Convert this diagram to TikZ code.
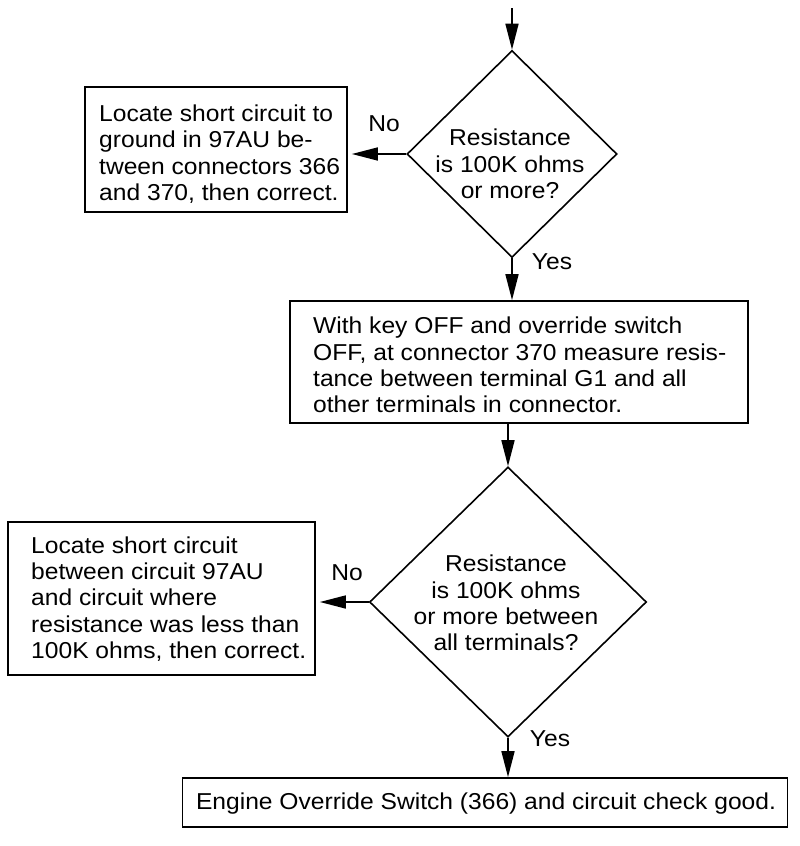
\documentclass[tikz,border=0pt]{standalone}
\usepackage{fontspec}
\setmainfont[FakeStretch=1.07]{Liberation Sans}
\usetikzlibrary{shapes.geometric,arrows.meta}
\begin{document}
\begin{tikzpicture}[x=1pt,y=-1pt,
  txt/.style={font=\fontsize{23}{26.3}\selectfont, inner sep=0pt},
  boxframe/.style={draw, line width=1.7pt, inner sep=0pt},
  dia/.style={draw, diamond, line width=1.6pt, inner sep=0pt, aspect=1},
  arr/.style={line width=1.6pt, -{Triangle[length=26pt,width=13pt]}}]
\useasboundingbox[fill=white] (0,0) rectangle (800,846);

% boxes
\node[boxframe, minimum width=262, minimum height=125] (b1) at (216,149.5) {};
\node[txt, align=left, anchor=west] (t1) at (99,154) {Locate short circuit to\\ground in 97AU be-\\tween connectors 366\\and 370, then correct.};

\node[boxframe, minimum width=458, minimum height=122] (b2) at (519,362) {};
\node[txt, align=left, anchor=west] (t2) at (313,365) {With key OFF and override switch\\OFF, at connector 370 measure resis-\\tance between terminal G1 and all\\other terminals in connector.};

\node[boxframe, minimum width=307, minimum height=153] (b3) at (161.5,598.5) {};
\node[txt, align=left, anchor=west] (t3) at (31,599) {Locate short circuit\\between circuit 97AU\\and circuit where\\resistance was less than\\100K ohms, then correct.};

\node[boxframe, minimum width=605, minimum height=49] (b4) at (485,802.5) {};
\node[txt] (t4) at (486,804) {Engine Override Switch (366) and circuit check good.};

% diamonds
\node[dia, minimum width=210, minimum height=207] (d1) at (512,154) {};
\node[txt, align=center] (dt1) at (510,164) {Resistance\\is 100K ohms\\or more?};

\node[dia, minimum width=277, minimum height=270] (d2) at (508,602) {};
\node[txt, align=center] (dt2) at (506,603) {Resistance\\is 100K ohms\\or more between\\all terminals?};

% connectors
\coordinate (start) at (d1.north |- 0,8);
\draw[arr] (start) -- (d1.north);
\draw[arr, shorten >=4pt] (d1.west) -- (d1.west -| b1.east);
\draw[arr] (d1.south) -- (d1.south |- b2.north);
\draw[arr] (b2.south -| d2.north) -- (d2.north);
\draw[arr, shorten >=4pt] (d2.west) -- (d2.west -| b3.east);
\draw[arr] (d2.south) -- (d2.south |- b4.north);

% labels
\node[txt] (no1) at (384,124) {No};
\node[txt] (yes1) at (552,262) {Yes};
\node[txt] (no2) at (347,573) {No};
\node[txt] (yes2) at (550,739) {Yes};
\end{tikzpicture}
\end{document}
